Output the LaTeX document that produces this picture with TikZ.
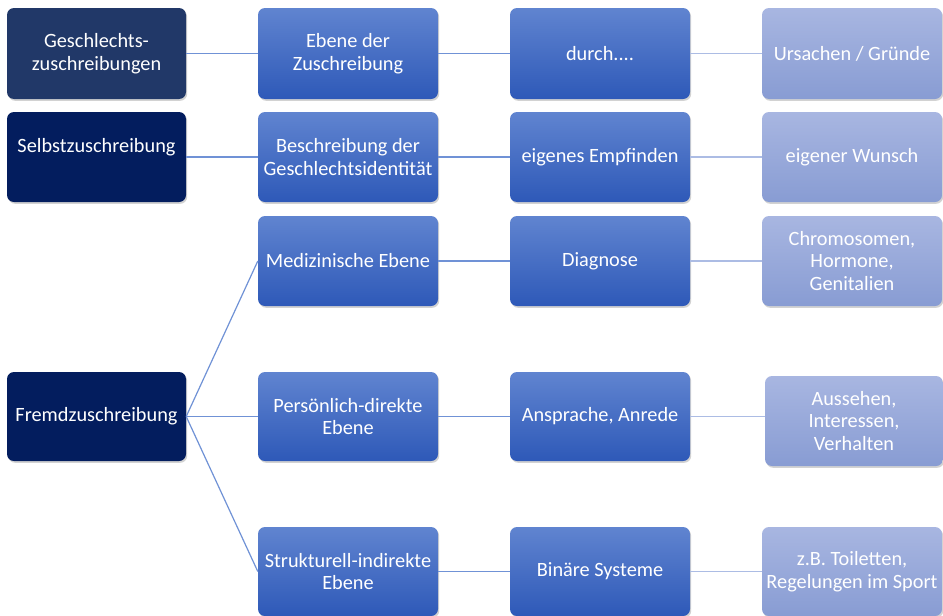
\documentclass[tikz,border=0pt]{standalone}
\usepackage{fontspec}
\setmainfont{Carlito}
\usetikzlibrary{shadows,fadings}
\definecolor{darkA}{RGB}{33,56,104}
\definecolor{darkB}{RGB}{3,29,94}
\definecolor{midT}{RGB}{96,132,208}
\definecolor{midB}{RGB}{46,89,184}
\definecolor{lightT}{RGB}{168,182,225}
\definecolor{lightB}{RGB}{136,156,211}
\definecolor{lineA}{RGB}{112,146,214}
\definecolor{lineB}{RGB}{172,188,228}
\tikzset{
  box/.style={rounded corners=7pt, minimum width=180pt, minimum height=90pt,
    text=white, align=center, inner sep=1pt,
    font=\fontsize{20.3}{22.5}\selectfont,
    drop shadow={opacity=0.35, shadow xshift=1.2pt, shadow yshift=-1.8pt}},
  dkA/.style={box, fill=darkA},
  dkB/.style={box, fill=darkB},
  md/.style={box, top color=midT, bottom color=midB},
  lt/.style={box, top color=lightT, bottom color=lightB},
  conA/.style={draw=lineA, line width=1.2pt},
  conB/.style={draw=lineB, line width=1.2pt}
}
\begin{document}
\begin{tikzpicture}[x=1pt,y=-1pt]
\useasboundingbox[fill=white] (0,0) rectangle (943,616);
% row 1
\node[dkA, minimum width=179pt, minimum height=91pt] (g) at (96.5,53.5) {Geschlechts-\\zuschreibungen};
\node[md, minimum height=91pt] (e) at (348,53.5) {Ebene der\\Zuschreibung};
\node[md, minimum height=91pt] (d) at (600,53.5) {durch....};
\node[lt, minimum height=91pt] (u) at (852,53.5) {Ursachen / Gründe};
% row 2
\node[dkB, minimum width=179pt] (s) at (96.5,157) {Selbstzuschreibung\\\mbox{}};
\node[md] (b) at (348,157) {Beschreibung der\\Geschlechtsidentität};
\node[md] (ee) at (600,157) {eigenes Empfinden};
\node[lt] (w) at (852,157) {eigener Wunsch};
% row 3
\node[md] (m) at (348,261) {Medizinische Ebene};
\node[md] (dg) at (600,261) {Diagnose};
\node[lt] (c) at (852,261) {Chromosomen,\\Hormone,\\Genitalien};
% row 4
\node[dkB, minimum width=179pt, minimum height=89pt] (f) at (96.5,416.5) {Fremdzuschreibung};
\node[md, minimum height=89pt] (p) at (348,416.5) {Persönlich-direkte\\Ebene};
\node[md, minimum height=89pt] (a) at (600,416.5) {Ansprache, Anrede};
\node[lt, minimum width=178pt] (v) at (854,421) {Aussehen,\\Interessen,\\Verhalten};
% row 5
\node[md, minimum height=89pt] (si) at (348,571.5) {Strukturell-indirekte\\Ebene};
\node[md, minimum height=89pt] (bs) at (600,571.5) {Binäre Systeme};
\node[lt, minimum height=89pt] (z) at (852,571.5) {z.B. Toiletten,\\Regelungen im Sport};
% connectors
\draw[conA] (g.east) -- (e.west);
\draw[conA] (e.east) -- (d.west);
\draw[conB] (d.east) -- (u.west);
\draw[conA] (s.east) -- (b.west);
\draw[conA] (b.east) -- (ee.west);
\draw[conB] (ee.east) -- (w.west);
\draw[conA] (f.east) -- (m.west);
\draw[conA] (f.east) -- (p.west);
\draw[conA] (f.east) -- (si.west);
\draw[conA] (m.east) -- (dg.west);
\draw[conB] (dg.east) -- (c.west);
\draw[conA] (p.east) -- (a.west);
\draw[conB] (a.east) -- (a.east -| v.west);
\draw[conA] (si.east) -- (bs.west);
\draw[conB] (bs.east) -- (z.west);
\end{tikzpicture}
\end{document}
